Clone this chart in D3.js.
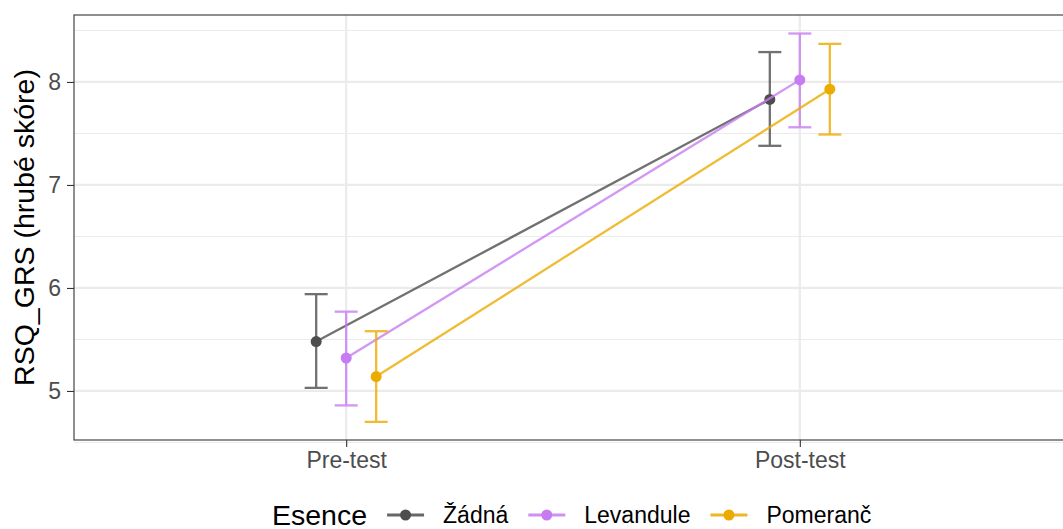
<!DOCTYPE html>
<html lang="cs">
<head>
<meta charset="UTF-8">
<style>
  body { margin: 0; background: #fff; }
  svg text { font-family: "Liberation Sans", Arial, sans-serif; }
</style>
</head>
<body>
<svg id="chart" width="1063" height="529"></svg>
<script src="https://d3js.org/d3.v7.min.js"></script>
<script>
// data
var phases = ["Pre-test", "Post-test"];
var groups = ["Žádná", "Levandule", "Pomeranč"];
var colors = ["#4d4d4d", "#c77cf2", "#ebab00"];
var means = [[5.48, 7.83], [5.32, 8.02], [5.14, 7.93]];
var lower = [[5.03, 7.38], [4.86, 7.56], [4.70, 7.49]];
var upper = [[5.94, 8.29], [5.77, 8.47], [5.58, 8.37]];
var yTicks = [5, 6, 7, 8];
var yMinor = [4.5, 5.5, 6.5, 7.5, 8.5];

var svg = d3.select("#chart");
var pLeft = 74, pTop = 15, pRight = 1072, pBottom = 440;

var x = d3.scalePoint().domain(phases).range([pLeft, pRight]).padding(0.6);
var y = d3.scaleLinear().domain([4.524, 8.65]).range([pBottom, pTop]);
var dodge = 30; // px offset between groups

// grid
var grid = svg.append("g");
grid.selectAll(".minor").data(yMinor).enter().append("line")
  .attr("x1", pLeft).attr("x2", pRight)
  .attr("y1", d => y(d)).attr("y2", d => y(d))
  .attr("stroke", "#ebebeb").attr("stroke-width", 1.1);
grid.selectAll(".major").data(yTicks).enter().append("line")
  .attr("x1", pLeft).attr("x2", pRight)
  .attr("y1", d => y(d)).attr("y2", d => y(d))
  .attr("stroke", "#ebebeb").attr("stroke-width", 2.2);
grid.selectAll(".vmajor").data(phases).enter().append("line")
  .attr("y1", pTop).attr("y2", pBottom)
  .attr("x1", d => x(d)).attr("x2", d => x(d))
  .attr("stroke", "#ebebeb").attr("stroke-width", 2.2);

// series
groups.forEach(function(g, i) {
  var off = (i - 1) * dodge;
  var col = colors[i];
  var pts = phases.map((p, j) => [x(p) + off, y(means[i][j])]);
  svg.append("path")
    .attr("d", d3.line()(pts))
    .attr("fill", "none").attr("stroke", col)
    .attr("stroke-width", 2.3).attr("opacity", 0.8);
  phases.forEach(function(p, j) {
    var cx = x(p) + off;
    var eb = svg.append("g").attr("stroke", col).attr("stroke-width", 2.3).attr("opacity", 0.8);
    eb.append("line").attr("x1", cx).attr("x2", cx)
      .attr("y1", y(lower[i][j])).attr("y2", y(upper[i][j]));
    [lower[i][j], upper[i][j]].forEach(function(v) {
      eb.append("line").attr("x1", cx - 11.5).attr("x2", cx + 11.5)
        .attr("y1", y(v)).attr("y2", y(v));
    });
    svg.append("circle").attr("cx", cx).attr("cy", y(means[i][j]))
      .attr("r", 5.5).attr("fill", col);
  });
});

// panel border
svg.append("rect").attr("x", pLeft).attr("y", pTop)
  .attr("width", pRight - pLeft).attr("height", pBottom - pTop)
  .attr("fill", "none").attr("stroke", "#333").attr("stroke-width", 1.1);

// axes
var yAxis = svg.append("g").attr("transform", "translate(" + pLeft + ",0)")
  .call(d3.axisLeft(y).tickValues(yTicks).tickFormat(d3.format("d")).tickSize(7).tickPadding(6));
var xAxis = svg.append("g").attr("transform", "translate(0," + pBottom + ")")
  .call(d3.axisBottom(x).tickSize(7).tickPadding(5));
[yAxis, xAxis].forEach(function(a) {
  a.select(".domain").remove();
  a.selectAll(".tick line").attr("stroke", "#333").attr("stroke-width", 1.1);
  a.selectAll(".tick text").attr("fill", "#4d4d4d").style("font-size", "23px")
    .style("font-family", "'Liberation Sans', Arial, sans-serif");
});

svg.append("text")
  .attr("transform", "translate(34," + ((pTop + pBottom) / 2) + ") rotate(-90)")
  .attr("text-anchor", "middle").attr("fill", "#000")
  .style("font-size", "28.5px").text("RSQ_GRS (hrubé skóre)");

// legend
var leg = svg.append("g").attr("transform", "translate(272,515)");
var t = leg.append("text").attr("x", 0).attr("y", 9.5).style("font-size", "28.5px")
  .attr("fill", "#000").text("Esence");
var cursor = t.node().getComputedTextLength() + 20;
groups.forEach(function(g, i) {
  leg.append("line").attr("x1", cursor).attr("x2", cursor + 37)
    .attr("y1", 0).attr("y2", 0).attr("stroke", colors[i])
    .attr("stroke-width", 2.8).attr("opacity", 0.85);
  leg.append("circle").attr("cx", cursor + 18.5).attr("cy", 0).attr("r", 5.5).attr("fill", colors[i]);
  var lt = leg.append("text").attr("x", cursor + 56).attr("y", 8)
    .style("font-size", "23px").attr("fill", "#000").text(g);
  cursor += 56 + lt.node().getComputedTextLength() + 20;
});
</script>
</body>
</html>
